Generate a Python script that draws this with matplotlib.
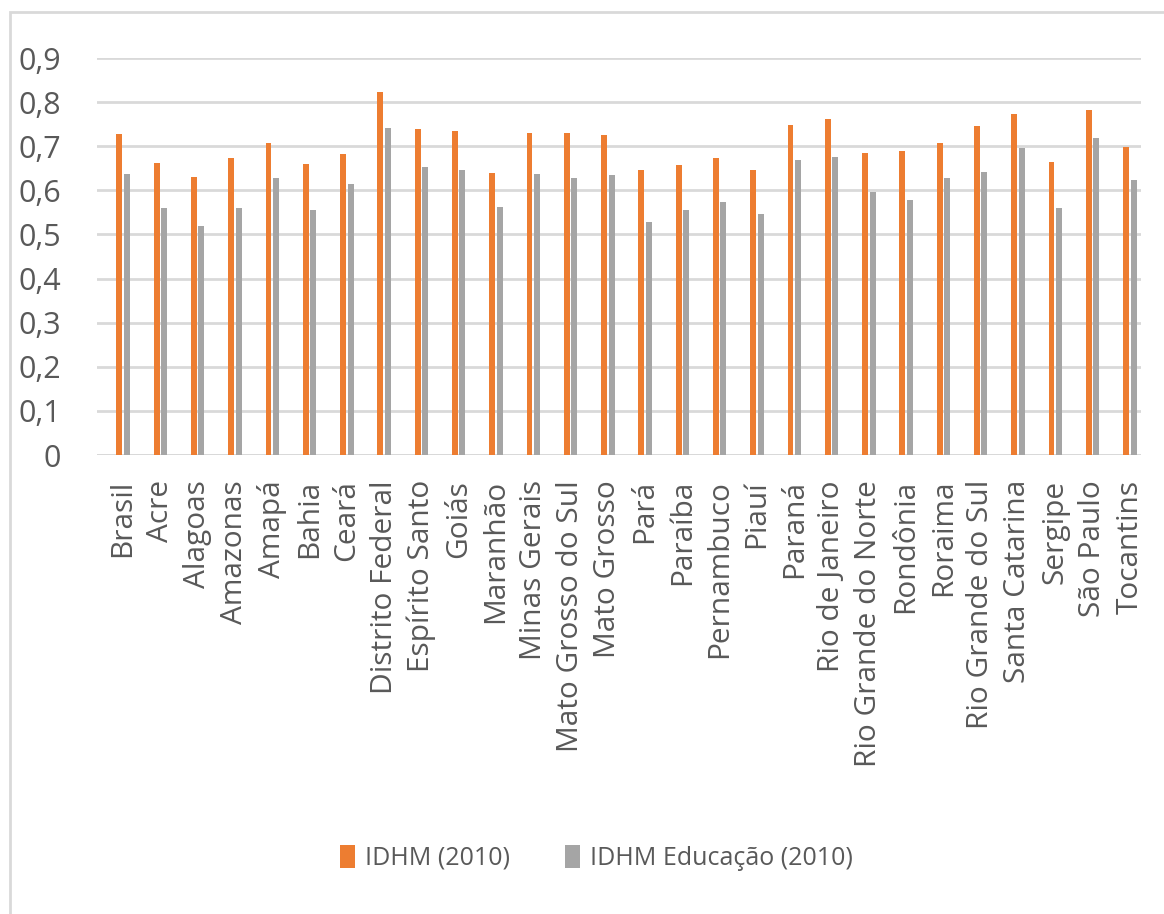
import matplotlib
matplotlib.use("Agg")
import matplotlib.pyplot as plt
import numpy as np
from matplotlib.patches import Rectangle

# IDHM 2010 por unidade da federação
estados = ["Brasil", "Acre", "Alagoas", "Amazonas", "Amapá", "Bahia", "Ceará",
           "Distrito Federal", "Espírito Santo", "Goiás", "Maranhão",
           "Minas Gerais", "Mato Grosso do Sul", "Mato Grosso", "Pará",
           "Paraíba", "Pernambuco", "Piauí", "Paraná", "Rio de Janeiro",
           "Rio Grande do Norte", "Rondônia", "Roraima", "Rio Grande do Sul",
           "Santa Catarina", "Sergipe", "São Paulo", "Tocantins"]
idhm = [0.727, 0.663, 0.631, 0.674, 0.708, 0.660, 0.682, 0.824, 0.740, 0.735,
        0.639, 0.731, 0.729, 0.725, 0.646, 0.658, 0.673, 0.646, 0.749, 0.761,
        0.684, 0.690, 0.707, 0.746, 0.774, 0.665, 0.783, 0.699]
idhm_educ = [0.637, 0.559, 0.520, 0.561, 0.629, 0.555, 0.615, 0.742, 0.653,
             0.646, 0.562, 0.638, 0.629, 0.635, 0.528, 0.555, 0.574, 0.547,
             0.668, 0.675, 0.597, 0.577, 0.628, 0.642, 0.697, 0.560, 0.719,
             0.624]
yticks = [0, 0.1, 0.2, 0.3, 0.4, 0.5, 0.6, 0.7, 0.8, 0.9]
ytick_labels = ["0", "0,1", "0,2", "0,3", "0,4", "0,5", "0,6", "0,7", "0,8", "0,9"]

ORANGE = "#ED7D31"
GRAY = "#A5A5A5"
TXT = "#595959"
GRID = "#D9D9D9"

plt.rcParams["font.family"] = ["Open Sans", "DejaVu Sans"]

W, H = 1164, 914
fig = plt.figure(figsize=(W / 100, H / 100), dpi=100)
# moldura externa (só topo e esquerda ficam visíveis, como no original)
fig.patches.append(Rectangle((10 / W, -0.1), 1.2, 1 - 12 / H + 0.1,
                             transform=fig.transFigure, fill=False,
                             edgecolor=GRID, linewidth=2))

ax = fig.add_axes([97 / W, 1 - 455 / H, (1141 - 97) / W, (455 - 58) / H])
x = np.arange(len(estados))
w = 0.16
ax.bar(x, idhm, width=w, color=ORANGE, label="IDHM (2010)", zorder=3)
ax.bar(x + 0.2, idhm_educ, width=w, color=GRAY, label="IDHM Educação (2010)", zorder=3)

ax.set_xlim(-0.6, len(estados) - 0.6)
ax.set_ylim(0, 0.9)
ax.set_yticks(yticks)
ax.set_yticklabels(ytick_labels)
ax.set_xticks(x + 0.1)
ax.set_xticklabels(estados, rotation=90)
ax.yaxis.grid(True, color=GRID, linewidth=2, zorder=0)
for s in ax.spines.values():
    s.set_visible(False)
ax.axhline(0, color=GRID, linewidth=2, zorder=2)
ax.tick_params(axis="y", length=0, pad=26, labelsize=22, labelcolor=TXT)
ax.tick_params(axis="x", length=0, pad=18, labelsize=21.5, labelcolor=TXT)

fig.legend(loc="center", bbox_to_anchor=(596 / W, 1 - 858 / H), ncol=2,
           frameon=False, fontsize=18, labelcolor=TXT, handlelength=0.6,
           handleheight=1.0, columnspacing=2.2, handletextpad=0.4)

fig.savefig("out.png", dpi=100, facecolor="white")
